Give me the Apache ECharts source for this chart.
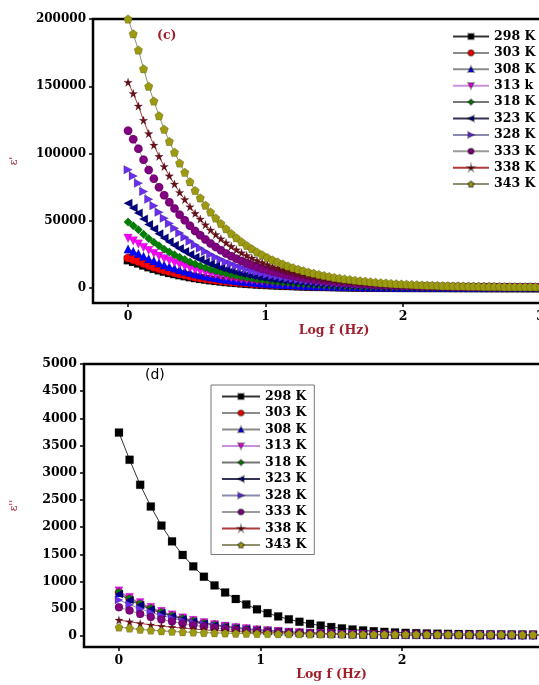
<!DOCTYPE html>
<html>
<head>
<meta charset="utf-8">
<script src="https://cdn.jsdelivr.net/npm/echarts@6/dist/echarts.min.js"></script>
<style>
  html, body { margin: 0; padding: 0; background: #fff; }
  #chart { width: 539px; height: 685px; }
</style>
</head>
<body>
<div id="chart"></div>
<script>
// ---- data: panel (c) real part, panel (d) imaginary part ----
const temps = ['298', '303', '308', '313', '318', '323', '328', '333', '338', '343'];
const labelsC = ['298 K', '303 K', '308 K', '313 k', '318 K', '323 K', '328 K', '333 K', '338 K', '343 K'];
const labelsD = ['298 K', '303 K', '308 K', '313 K', '318 K', '323 K', '328 K', '333 K', '338 K', '343 K'];

const logF_c = [0,0.0375,0.075,0.1125,0.15,0.1875,0.225,0.2625,0.3,0.3375,
  0.375,0.4125,0.45,0.4875,0.525,0.5625,0.6,0.6375,0.675,0.7125,
  0.75,0.7875,0.825,0.8625,0.9,0.9375,0.975,1.0125,1.05,1.0875,
  1.125,1.1625,1.2,1.2375,1.275,1.3125,1.35,1.3875,1.425,1.4625,
  1.5,1.5375,1.575,1.6125,1.65,1.6875,1.725,1.7625,1.8,1.8375,
  1.875,1.9125,1.95,1.9875,2.025,2.0625,2.1,2.1375,2.175,2.2125,
  2.25,2.2875,2.325,2.3625,2.4,2.4375,2.475,2.5125,2.55,2.5875,
  2.625,2.6625,2.7,2.7375,2.775,2.8125,2.85,2.8875,2.925,2.9625,
  3.0,3.0375,3.075,3.1125,3.15];

const epsR_298 = [20800,19600,18400,16900,15600,14400,13300,12300,11300,10500,
  9700,8950,8200,7550,6950,6400,5900,5400,4980,4570,
  4200,3880,3570,3290,3030,2790,2570,2360,2170,2010,
  1850,1700,1570,1450,1330,1230,1130,1040,960,890,
  820,760,700,650,600,555,515,480,440,410,
  380,355,330,305,285,265,250,235,220,205,
  193,183,173,163,155,148,140,134,128,123,
  118,113,109,105,102,99,96,93,90,88,
  86,84,83,81,80];
const epsR_303 = [22300,21100,19700,18200,16700,15500,14300,13200,12200,11300,
  10400,9590,8810,8080,7470,6860,6300,5800,5350,4910,
  4520,4160,3820,3520,3240,2990,2750,2530,2330,2150,
  1980,1830,1680,1550,1430,1320,1220,1120,1030,950,
  880,810,750,700,650,600,550,510,470,440,
  410,380,350,330,310,280,270,250,230,220,
  210,200,190,180,170,160,150,140,140,130,
  130,120,120,110,110,110,100,100,97,95,
  93,90,89,87,85];
const epsR_308 = [29000,27400,25700,23600,21800,20200,18600,17100,15800,14600,
  13500,12500,11500,10500,9720,8920,8190,7540,6960,6380,
  5870,5410,4970,4580,4220,3890,3580,3290,3030,2800,
  2580,2380,2190,2020,1860,1710,1580,1450,1340,1240,
  1150,1060,980,910,840,780,720,670,620,570,
  530,490,460,430,400,370,350,330,300,290,
  270,260,240,230,220,210,200,190,180,170,
  160,160,150,150,140,140,130,130,130,120,
  120,120,120,110,110];
const epsR_313 = [37000,35000,32700,30200,27800,25700,23700,21800,20200,18700,
  17200,15900,14600,13400,12400,11400,10500,9620,8880,8140,
  7490,6900,6350,5850,5380,4960,4570,4200,3870,3570,
  3290,3030,2790,2570,2370,2180,2020,1850,1710,1580,
  1460,1350,1250,1160,1070,990,920,850,790,730,
  680,630,580,550,510,470,440,420,390,370,
  340,330,310,290,280,260,250,240,230,220,
  210,200,190,190,180,180,170,170,160,160,
  150,150,150,140,140];
const epsR_318 = [49000,46300,43400,39900,36800,34100,31400,28900,26700,24700,
  22800,21100,19400,17800,16400,15100,13800,12700,11800,10800,
  9920,9140,8400,7740,7130,6570,6050,5560,5120,4730,
  4360,4020,3700,3410,3140,2890,2670,2450,2270,2090,
  1940,1790,1650,1530,1420,1310,1210,1130,1040,970,
  890,830,770,720,670,620,590,550,510,490,
  460,430,410,380,370,350,330,320,300,290,
  280,270,260,250,240,230,230,220,210,210,
  200,200,190,190,190];
const epsR_323 = [63000,59500,55800,51300,47300,43800,40300,37200,34300,31800,
  29300,27100,24900,22800,21100,19400,17800,16400,15100,13900,
  12800,11700,10800,9950,9170,8440,7780,7150,6580,6080,
  5610,5170,4760,4380,4030,3720,3430,3150,2910,2690,
  2490,2300,2130,1970,1830,1690,1560,1450,1340,1240,
  1150,1070,990,930,870,800,760,710,660,620,
  590,550,520,490,470,450,430,410,390,370,
  360,340,330,320,310,300,290,280,270,270,
  260,260,250,250,240];
const epsR_328 = [88000,83200,77900,71700,66000,61200,56300,51900,48000,44400,
  40900,37800,34800,31900,29500,27100,24900,22900,21100,19400,
  17800,16400,15100,13900,12800,11800,10900,9990,9200,8490,
  7830,7220,6640,6120,5630,5190,4800,4400,4070,3760,
  3480,3210,2970,2750,2550,2350,2180,2020,1870,1740,
  1610,1500,1390,1300,1210,1120,1060,990,920,870,
  820,770,730,690,660,620,590,570,540,520,
  500,480,460,440,430,420,400,390,380,370,
  370,360,350,340,340];
const epsR_333 = [117000,110600,103500,95400,87800,81300,74900,69000,63800,59100,
  54400,50300,46200,42400,39200,36000,33100,30400,28100,25700,
  23700,21800,20100,18500,17000,15700,14400,13300,12200,11300,
  10400,9590,8830,8130,7490,6900,6380,5850,5410,5000,
  4620,4270,3950,3660,3390,3130,2900,2690,2490,2310,
  2140,1990,1840,1730,1610,1490,1400,1320,1230,1160,
  1090,1030,970,920,870,830,790,750,720,690,
  660,640,610,590,570,560,540,520,510,500,
  490,470,470,460,450];
const epsR_338 = [153000,144600,135400,124700,114800,106300,97900,90300,83400,77300,
  71100,65800,60400,55500,51300,47000,43200,39800,36700,33700,
  31000,28500,26200,24200,22300,20500,18900,17400,16000,14800,
  13600,12500,11600,10600,9790,9030,8340,7650,7080,6540,
  6040,5580,5160,4780,4440,4090,3790,3520,3250,3020,
  2790,2600,2410,2260,2100,1950,1840,1720,1610,1510,
  1420,1350,1270,1200,1140,1090,1030,990,940,900,
  860,830,800,770,750,730,700,680,670,650,
  630,620,610,600,590];
const epsR_343 = [200000,189000,177000,163000,150000,139000,128000,118000,109000,101000,
  93000,86000,79000,72500,67000,61500,56500,52000,48000,44000,
  40500,37300,34300,31600,29100,26800,24700,22700,20900,19300,
  17800,16400,15100,13900,12800,11800,10900,10000,9250,8550,
  7900,7300,6750,6250,5800,5350,4950,4600,4250,3950,
  3650,3400,3150,2950,2750,2550,2400,2250,2100,1980,
  1860,1760,1660,1570,1490,1420,1350,1290,1230,1180,
  1130,1090,1050,1010,980,950,920,895,870,850,
  830,810,795,780,765];

const logF_d = [0,0.075,0.15,0.225,0.3,0.375,0.45,0.525,0.6,0.675,
  0.75,0.825,0.9,0.975,1.05,1.125,1.2,1.275,1.35,1.425,
  1.5,1.575,1.65,1.725,1.8,1.875,1.95,2.025,2.1,2.175,
  2.25,2.325,2.4,2.475,2.55,2.625,2.7,2.775,2.85,2.925,
  3.0,3.075,3.15];

const epsI_298 = [3740,3240,2780,2380,2030,1740,1490,1280,1090,930,
  800,680,580,490,420,360,307,262,224,192,
  164,140,120,103,88,76,66,58,52,47,
  43,40,37,35,33,31,30,29,28,27,
  26,25,25];
const epsI_303 = [800,688,592,509,438,376,324,278,239,206,
  177,152,131,113,97,84,73,63,55,48,
  42,37,33,30,28,26,24,22,21,20,
  19,18,17,17,16,16,15,15,15,14,
  14,14,14];
const epsI_308 = [790,680,585,503,432,372,320,275,237,204,
  175,151,130,112,96,83,72,62,54,47,
  41,37,33,30,27,25,23,22,21,20,
  19,18,17,17,16,16,15,15,15,14,
  14,14,14];
const epsI_313 = [830,714,614,528,454,390,336,289,248,213,
  184,158,136,117,100,86,75,65,57,50,
  44,39,35,32,29,27,25,23,22,21,
  20,19,18,18,17,17,16,16,16,15,
  15,15,15];
const epsI_318 = [814,700,602,518,445,383,330,284,244,210,
  180,155,134,115,99,85,74,64,56,49,
  43,38,34,31,28,26,24,22,21,20,
  19,18,17,17,16,16,15,15,15,14,
  14,14,14];
const epsI_323 = [770,663,570,490,422,363,312,268,231,198,
  171,147,126,109,94,81,70,61,53,46,
  41,36,32,29,27,25,23,21,20,19,
  18,17,17,16,16,15,15,15,14,14,
  14,14,14];
const epsI_328 = [662,575,500,435,378,329,286,249,217,188,
  164,142,124,108,94,82,71,62,54,47,
  41,37,33,30,27,25,23,21,20,19,
  18,17,17,16,16,15,15,15,14,14,
  14,14,14];
const epsI_333 = [527,470,405,350,303,265,230,198,174,150,
  132,116,101,90,80,71,63,56,50,45,
  40,36,32,29,27,25,23,22,21,20,
  19,18,17,17,16,16,15,15,15,14,
  14,14,14];
const epsI_338 = [294,262,232,205,182,162,144,128,114,102,
  91,82,74,67,61,56,51,47,44,41,
  38,36,34,32,31,30,29,28,27,27,
  26,26,25,25,25,24,24,24,24,23,
  23,23,23];
const epsI_343 = [160,141,120,105,92,82,74,67,61,56,
  52,48,45,42,40,38,36,35,34,33,
  32,31,30,30,29,29,28,28,28,27,
  27,27,27,26,26,26,26,26,25,25,
  25,25,25];

const epsRList = [epsR_298, epsR_303, epsR_308, epsR_313, epsR_318, epsR_323, epsR_328, epsR_333, epsR_338, epsR_343];
const epsIList = [epsI_298, epsI_303, epsI_308, epsI_313, epsI_318, epsI_323, epsI_328, epsI_333, epsI_338, epsI_343];

// ---- marker styles ----
const STAR = 'path://M50,0 L61,35 L98,35 L68,57 L79,91 L50,70 L21,91 L32,57 L2,35 L39,35 Z';
const PENTA = 'path://M50,0 L98,36 L80,95 L20,95 L2,36 Z';
const markers = [
  { symbol: 'rect', rot: 0, color: '#000000', line: '#333333' },
  { symbol: 'circle', rot: 0, color: '#ff0000', line: '#8a8a8a' },
  { symbol: 'triangle', rot: 0, color: '#0000ff', line: '#8a8a8a' },
  { symbol: 'triangle', rot: 180, color: '#ff00ff', line: '#c890d8' },
  { symbol: 'diamond', rot: 0, color: '#008000', line: '#777777' },
  { symbol: 'triangle', rot: 90, color: '#000080', line: '#333355' },
  { symbol: 'triangle', rot: -90, color: '#6a2ef0', line: '#8a8ab0' },
  { symbol: 'circle', rot: 0, color: '#800080', line: '#9a9a9a' },
  { symbol: STAR, rot: 0, color: '#6b0f1a', line: '#b03a3a' },
  { symbol: PENTA, rot: 0, color: '#9c9a10', line: '#8f8f70' }
];

const SERIF = '"DejaVu Serif", "Liberation Serif", serif';
const DARKRED = '#a11f2c';

function buildSeries(prefix, xs, list, gridIdx, size) {
  return list.map(function (vals, i) {
    const m = markers[i];
    return {
      name: prefix + temps[i],
      type: 'line',
      xAxisIndex: gridIdx,
      yAxisIndex: gridIdx,
      data: xs.map(function (x, k) { return [x, vals[k]]; }),
      symbol: m.symbol,
      symbolRotate: m.rot,
      symbolSize: size,
      showSymbol: true,
      animation: false,
      lineStyle: { color: m.line, width: 1 },
      itemStyle: { color: m.color, borderColor: 'rgba(0,0,0,0.35)', borderWidth: 0.5 },
      emphasis: { disabled: true }
    };
  });
}

function plain(v) { return String(v); }

function xAxisFor(gridIdx, min, max) {
  return {
    type: 'value', gridIndex: gridIdx, min: min, max: max,
    name: 'Log f (Hz)', nameLocation: 'middle', nameGap: 20,
    nameTextStyle: { color: DARKRED, fontFamily: SERIF, fontWeight: 'bold', fontSize: 12.5 },
    axisLine: { show: false, onZero: false },
    axisTick: { show: true, inside: false, length: 4, lineStyle: { color: '#000', width: 1.5 }, customValues: [0, 1, 2, 3] },
    axisLabel: { color: '#000', fontFamily: SERIF, fontWeight: 'bold', fontSize: 12.5, margin: 7, formatter: plain, customValues: [0, 1, 2, 3] },
    splitLine: { show: false }
  };
}

function yAxisFor(gridIdx, min, max, ticks, name, gap, fs) {
  return {
    type: 'value', gridIndex: gridIdx, min: min, max: max,
    name: name, nameLocation: 'middle', nameGap: gap, nameRotate: 90,
    nameTextStyle: { color: DARKRED, fontFamily: SERIF, fontSize: 11 },
    axisLine: { show: false, onZero: false },
    axisTick: { show: true, inside: false, length: 4, lineStyle: { color: '#000', width: 1.5 }, customValues: ticks },
    axisLabel: { color: '#000', fontFamily: SERIF, fontWeight: 'bold', fontSize: fs, margin: 7, formatter: plain, customValues: ticks },
    splitLine: { show: false }
  };
}

const chart = echarts.init(document.getElementById('chart'), null, { renderer: 'canvas' });

const option = {
  backgroundColor: '#ffffff',
  animation: false,
  grid: [
    { left: 93, top: 19, width: 482, height: 284, outerBoundsMode: 'none', containLabel: false, show: true, borderColor: '#000', borderWidth: 2.5, backgroundColor: '#fff' },
    { left: 84, top: 364, width: 495, height: 283, outerBoundsMode: 'none', containLabel: false, show: true, borderColor: '#000', borderWidth: 2.5, backgroundColor: '#fff' }
  ],
  xAxis: [
    xAxisFor(0, -0.255, 3.25),
    xAxisFor(1, -0.247, 3.25)
  ],
  yAxis: [
    yAxisFor(0, -11150, 200000, [0, 50000, 100000, 150000, 200000], "ε'", 73, 12),
    yAxisFor(1, -202, 5000, [0, 500, 1000, 1500, 2000, 2500, 3000, 3500, 4000, 4500, 5000], "ε''", 64, 12.5)
  ],
  legend: [
    {
      orient: 'vertical', left: 447, top: 25,
      data: temps.map(function (t) { return 'c' + t; }),
      formatter: function (n) { return labelsC[temps.indexOf(n.slice(1))]; },
      itemWidth: 36, itemHeight: 7, itemGap: 3.4,
      textStyle: { fontFamily: SERIF, fontWeight: 'bold', fontSize: 12.5, color: '#000', lineHeight: 10 },
      selectedMode: false
    },
    {
      orient: 'vertical', left: 211, top: 385,
      data: temps.map(function (t) { return 'd' + t; }),
      formatter: function (n) { return labelsD[temps.indexOf(n.slice(1))]; },
      itemWidth: 38, itemHeight: 7, itemGap: 3.5,
      padding: [5, 8, 3, 10],
      borderColor: '#777', borderWidth: 1,
      textStyle: { fontFamily: SERIF, fontWeight: 'bold', fontSize: 12.5, color: '#000', lineHeight: 10 },
      selectedMode: false
    }
  ],
  graphic: [
    { type: 'text', left: 157, top: 29, style: { text: '(c)', fill: DARKRED, font: 'bold 12.5px ' + SERIF } },
    { type: 'text', left: 145, top: 368, style: { text: '(d)', fill: '#000', font: '14px "DejaVu Sans", sans-serif' } }
  ],
  series: buildSeries('c', logF_c, epsRList, 0, 8.5).concat(buildSeries('d', logF_d, epsIList, 1, 8))
};

chart.setOption(option);
</script>
</body>
</html>
